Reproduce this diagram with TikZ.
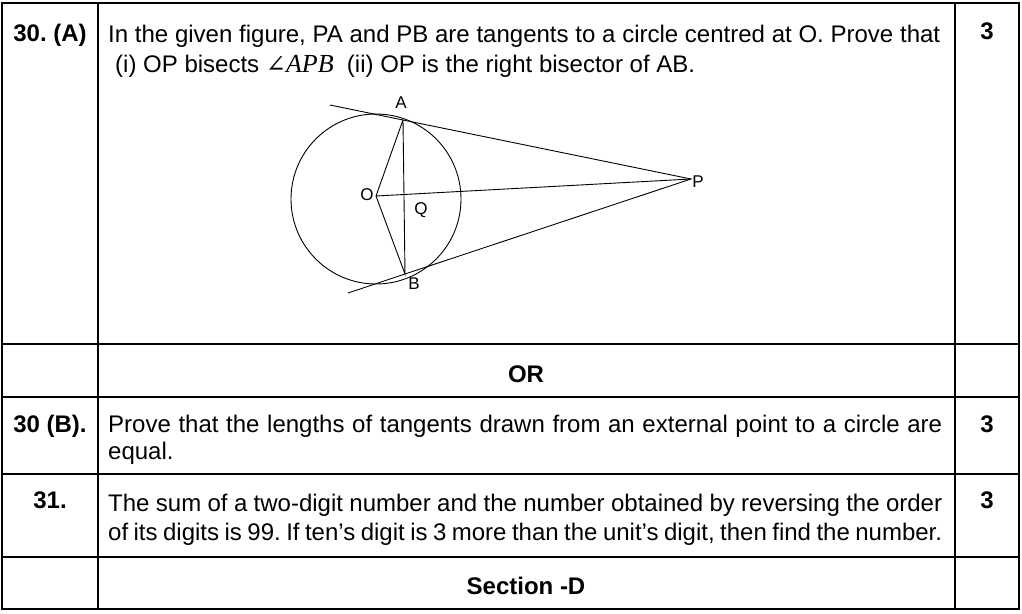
\documentclass[tikz,border=0pt]{standalone}
\usepackage{fontspec}
\setmainfont{Liberation Sans}
\newfontfamily\serifit{Liberation Serif}[ItalicFont={Liberation Serif Italic}]
\newfontfamily\djserif{DejaVu Serif}
\newcommand{\jline}[2]{\hbox to #1{\spaceskip=0.278em plus 0.5em minus 0.15em\relax #2}}
\begin{document}
\begin{tikzpicture}[x=1pt,y=-1pt,
  rule/.style={line width=2.4pt,line cap=rect},
  fig/.style={line width=0.9pt},
  txt/.style={inner sep=0pt,anchor=base west,font=\fontsize{24}{30}\selectfont\frenchspacing},
  num/.style={inner sep=0pt,anchor=base,font=\fontsize{24}{30}\selectfont\bfseries\frenchspacing},
  lab/.style={inner sep=0pt,font=\fontsize{17}{19}\selectfont}]
\useasboundingbox (0,0) rectangle (1022,613);
% table rules
\foreach \yy in {3,344,397,474,557,609} \draw[rule] (2,\yy) -- (1019,\yy);
\foreach \xx in {2,98,955,1019} \draw[rule] (\xx,3) -- (\xx,609);
% row 1
\node[num] (q30a) at (50,41) {30. (A)};
\node[txt] (t1a) at (108,42) {\jline{832pt}{In the given figure, PA and PB are tangents to a circle centred at O. Prove that}};
\node[txt] (t1b) at (115,72) {(i) OP bisects {\djserif\fontsize{24}{30}\selectfont ∠}{\serifit\fontsize{26}{30}\selectfont\itshape APB}\ \ (ii) OP is the right bisector of AB.};
\node[num] (m1) at (987,39) {3};
% figure
\coordinate (O) at (376,196);
\coordinate (A) at (403,120);
\coordinate (B) at (405,274);
\coordinate (P) at (691,179);
\coordinate (A1) at (330,105);
\coordinate (B1) at (348,293);
\draw[fig] (376,199) circle[radius=85];
\draw[fig] (A1) -- (A) -- (P) -- (B) -- (B1);
\draw[fig] (A) -- (O) -- (B) -- (A);
\draw[fig] (O) -- (P);
\node[lab] (lA) at (401,103) {A};
\node[lab] (lO) at (367,195) {O};
\node[lab] (lQ) at (421,210) {Q};
\node[lab] (lB) at (414,284) {B};
\node[lab] (lP) at (698,182) {P};
% row 2
\node[num] (or) at (526,382) {OR};
% row 3
\node[num] (q30b) at (50,432) {30 (B).};
\node[txt] (t3a) at (108,432) {\jline{834pt}{Prove that the lengths of tangents drawn from an external point to a circle are}};
\node[txt] (t3b) at (108,459) {equal.};
\node[num] (m3) at (987,432) {3};
% row 4
\node[num] (q31) at (50,508) {31.};
\node[txt] (t4a) at (108,511) {\jline{834pt}{The sum of a two-digit number and the number obtained by reversing the order}};
\node[txt] (t4b) at (108,540) {\jline{834pt}{of its digits is 99. If ten’s digit is 3 more than the unit’s digit, then find the number.}};
\node[num] (m4) at (987,508) {3};
% row 5
\node[num] (sd) at (526,594) {Section -D};
\end{tikzpicture}
\end{document}
